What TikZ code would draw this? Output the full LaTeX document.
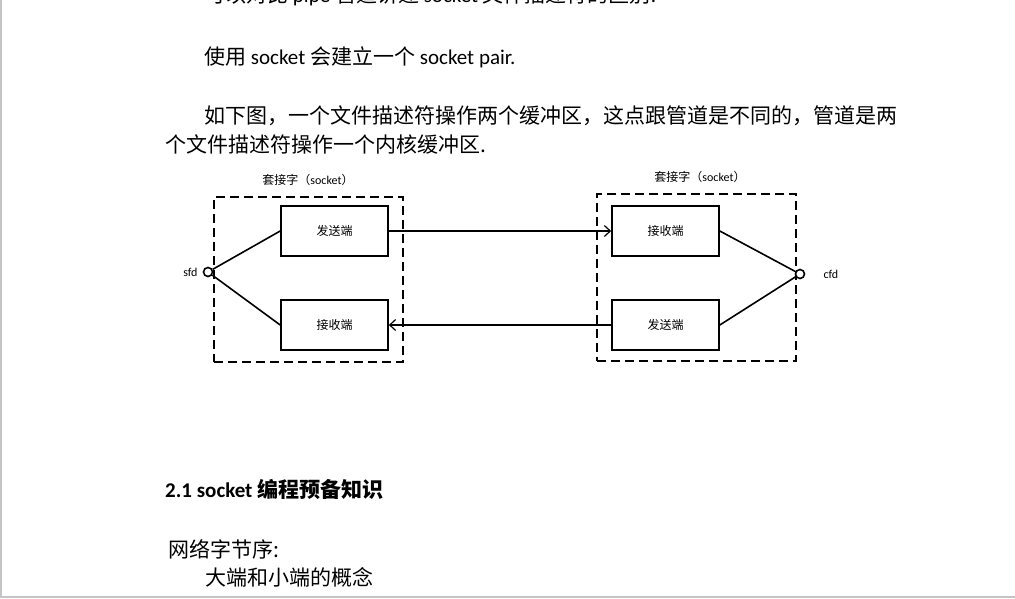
\documentclass[tikz,border=0pt]{standalone}
\usepackage{fontspec}
\setmainfont{Carlito}
\newfontfamily\cjk{Noto Sans CJK SC}
\usetikzlibrary{arrows.meta,positioning}
\definecolor{Frame}{HTML}{C4C4C8}

\begin{document}
\begin{tikzpicture}[x=1pt,y=-1pt,
  para/.style={anchor=west,inner sep=0pt,font=\fontsize{21}{24}\selectfont},
  buf/.style={draw,line width=1.6pt,minimum width=107pt,minimum height=50pt,inner sep=0pt,font=\cjk\fontsize{12}{14}\selectfont},
  sockbox/.style={draw,line width=1.6pt,dash pattern=on 9pt off 5pt,inner sep=0pt},
  fdport/.style={circle,draw,line width=1.6pt,inner sep=0pt,minimum size=9pt},
  tag/.style={inner sep=1pt,font=\fontsize{12}{14}\selectfont},
  link/.style={line width=1.6pt},
  pipe/.style={line width=1.2pt,-{Straight Barb[length=6pt,width=11pt,line width=1.2pt]}}]
\useasboundingbox (0,0) rectangle (1015,598);
\clip (0,0) rectangle (1015,598);
\draw[Frame,line width=2pt] (1,0)--(1,598) (0,597)--(1015,597);

\node[para] (intro) at (204,-5) {{\cjk 可以对比} pipe {\cjk 管道讲述} socket {\cjk 文件描述符的区别}.};
\node[para] (pair) at (204,57) {{\cjk 使用} socket {\cjk 会建立一个} socket pair.};
\node[para] (diff1) at (204,116) {\cjk 如下图，一个文件描述符操作两个缓冲区，这点跟管道是不同的，管道是两};
\node[para] (diff2) at (165,144) {\cjk 个文件描述符操作一个内核缓冲区.};

\node[sockbox,minimum width=189pt,minimum height=165pt] (sockL) at (308.5,279.5) {};
\node[sockbox,minimum width=199pt,minimum height=167pt] (sockR) at (696.5,277.5) {};
\node[tag] (titleL) at (308,180) {{\cjk 套接字（}socket{\cjk ）}};
\node[tag] (titleR) at (700,177) {{\cjk 套接字（}socket{\cjk ）}};

\node[buf] (sendL) at (334.5,231) {发送端};
\node[buf] (recvL) at (334.5,325) {接收端};
\node[buf] (recvR) at (665.5,231) {接收端};
\node[buf] (sendR) at (665.5,325) {发送端};

\node[fdport,fill=white] (sfd) at (208,272) {};
\node[fdport,fill=white] (cfd) at (800,274) {};
\node[tag,left=4pt of sfd] (sfdname) {sfd};
\node[tag,right=17pt of cfd] (cfdname) {cfd};

\draw[link] (sfd) -- (sendL.west);
\draw[link] (sfd) -- (recvL.west);
\draw[link] (recvR.east) -- (cfd);
\draw[link] (sendR.east) -- (cfd);
\draw[pipe] (sendL) -- (recvR);
\draw[pipe] (sendR) -- (recvL);

\node[para,font=\bfseries\fontsize{21}{24}\selectfont] (head) at (165,489) {2.1 socket {\cjk\bfseries 编程预备知识}};
\node[para] (order) at (168,549) {\cjk 网络字节序:};
\node[para] (endian) at (205,577) {\cjk 大端和小端的概念};
\end{tikzpicture}
\end{document}
